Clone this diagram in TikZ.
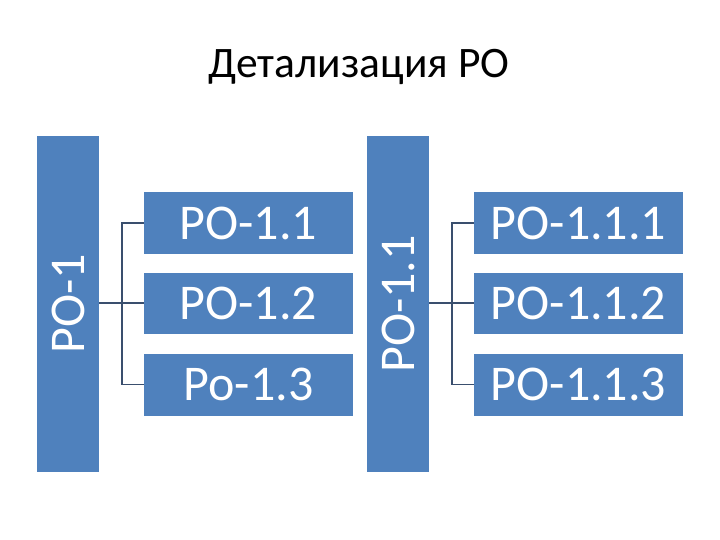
\documentclass[tikz,border=0pt]{standalone}
\usepackage{fontspec}
\setmainfont{Carlito}
\definecolor{boxblue}{HTML}{4F81BD}
\definecolor{connc}{HTML}{3A4F6E}
\begin{document}
\begin{tikzpicture}[x=1pt,y=-1pt,
  box/.style={fill=boxblue,draw=none,inner sep=0pt,text=white,minimum width=209pt,minimum height=62pt,font=\fontsize{50}{60}\selectfont},
  bar/.style={fill=boxblue,draw=none,inner sep=0pt,text=white,rotate=90,minimum width=336pt,minimum height=62pt,font=\fontsize{50}{60}\selectfont},
  conn/.style={draw=connc,line width=1.5pt}]
\useasboundingbox[fill=white] (0,0) rectangle (720,540);
\node[anchor=base,font=\fontsize{43.5}{52}\selectfont] (title) at (359,78) {Детализация РО};
\node[bar] (p1) at (68,304) {РО-1};
\node[box] (a1) at (248.5,223) {РО-1.1};
\node[box,minimum height=61pt] (a2) at (248.5,303.5) {РО-1.2};
\node[box] (a3) at (248.5,384.5) {Ро-1.3};
\node[bar] (p11) at (398,304) {РО-1.1};
\node[box] (b1) at (578.5,223) {РО-1.1.1};
\node[box,minimum height=61pt] (b2) at (578.5,303.5) {РО-1.1.2};
\node[box] (b3) at (578.5,384.5) {РО-1.1.3};
\coordinate (j1) at (122,303);
\coordinate (j2) at (452,303);
\draw[conn] (a1.west) -| (j1) |- (a3.west);
\draw[conn] (p1.south |- j1) -- (j1 -| a2.west);
\draw[conn] (b1.west) -| (j2) |- (b3.west);
\draw[conn] (p11.south |- j2) -- (j2 -| b2.west);
\end{tikzpicture}
\end{document}
